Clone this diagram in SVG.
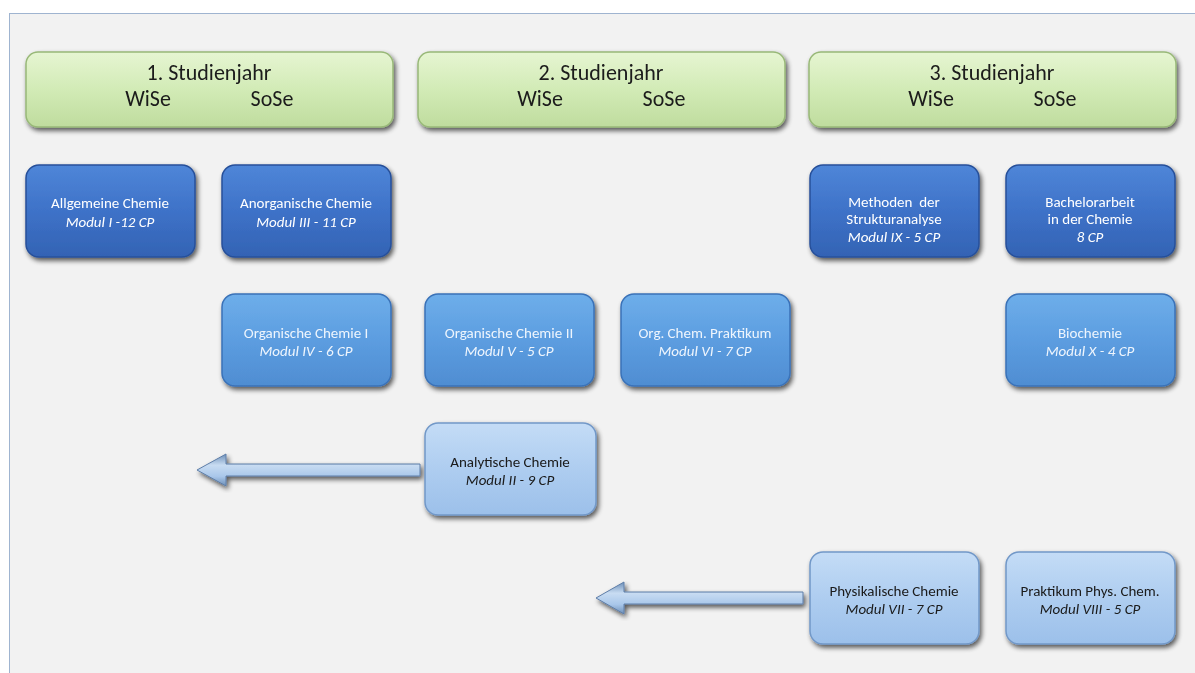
<svg xmlns="http://www.w3.org/2000/svg" width="1195" height="673" viewBox="0 0 1195 673">
<defs>
<linearGradient id="gGreen" x1="0" y1="0" x2="0" y2="1">
<stop offset="0" stop-color="#e6f5d2"/><stop offset="0.5" stop-color="#d2ebb6"/><stop offset="1" stop-color="#bfdc9e"/>
</linearGradient>
<linearGradient id="gDark" x1="0" y1="0" x2="0" y2="1">
<stop offset="0" stop-color="#4f86d8"/><stop offset="0.5" stop-color="#3e72c8"/><stop offset="1" stop-color="#3363b4"/>
</linearGradient>
<linearGradient id="gMid" x1="0" y1="0" x2="0" y2="1">
<stop offset="0" stop-color="#6eaeea"/><stop offset="0.5" stop-color="#5c9de0"/><stop offset="1" stop-color="#4f8dd2"/>
</linearGradient>
<linearGradient id="gLight" x1="0" y1="0" x2="0" y2="1">
<stop offset="0" stop-color="#c4dcf6"/><stop offset="0.5" stop-color="#aecdf0"/><stop offset="1" stop-color="#9cc0ea"/>
</linearGradient>
<linearGradient id="gArrow" x1="0" y1="0" x2="0" y2="1">
<stop offset="0" stop-color="#6d8fb8"/><stop offset="0.35" stop-color="#c8dcf2"/><stop offset="0.7" stop-color="#a9c7ea"/><stop offset="1" stop-color="#6d8fb8"/>
</linearGradient>
<filter id="sh" x="-10%" y="-10%" width="125%" height="130%">
<feGaussianBlur in="SourceAlpha" stdDeviation="2.5"/>
<feOffset dx="2" dy="3" result="b"/>
<feComponentTransfer><feFuncA type="linear" slope="0.65"/></feComponentTransfer>
<feMerge><feMergeNode/><feMergeNode in="SourceGraphic"/></feMerge>
</filter>
</defs>
<style>
.hdr{fill:url(#gGreen);stroke:#98b878;stroke-width:1.5}
.dark{fill:url(#gDark);stroke:#27509a;stroke-width:1.5}
.mid{fill:url(#gMid);stroke:#3a72b8;stroke-width:1.5}
.light{fill:url(#gLight);stroke:#7298c8;stroke-width:1.5}
text{font-family:Calibri,Carlito,"Open Sans","Liberation Sans",sans-serif;text-anchor:middle}
.ht{font-size:22px;fill:#1a1a1a}
.nt{font-size:15px}
.w{fill:#ffffff}
.wm{fill:#eef5fd}
.k{fill:#1a1a1a}
.i{font-style:italic}
.arr{fill:url(#gArrow);stroke:#5e7ea8;stroke-width:1}
</style>
<rect x="0" y="0" width="1195" height="673" fill="#ffffff"/>
<rect x="9.5" y="13.5" width="1195" height="670" fill="#f2f2f2" stroke="#9fb4d0" stroke-width="1"/>

<g id="year1" filter="url(#sh)">
<rect class="hdr" x="26" y="52" width="367" height="75" rx="12"/>
<text class="ht" x="209" y="80">1. Studienjahr</text>
<text class="ht" x="148" y="106">WiSe</text>
<text class="ht" x="272" y="106">SoSe</text>
</g>
<g id="year2" filter="url(#sh)">
<rect class="hdr" x="418" y="52" width="367" height="75" rx="12"/>
<text class="ht" x="601" y="80">2. Studienjahr</text>
<text class="ht" x="540" y="106">WiSe</text>
<text class="ht" x="664" y="106">SoSe</text>
</g>
<g id="year3" filter="url(#sh)">
<rect class="hdr" x="809" y="52" width="367" height="75" rx="12"/>
<text class="ht" x="992" y="80">3. Studienjahr</text>
<text class="ht" x="931" y="106">WiSe</text>
<text class="ht" x="1055" y="106">SoSe</text>
</g>

<g id="connectors">
<path class="arr" d="M420,464 L420,476 L226,476 L226,486 L197,470 L226,454 L226,464 Z" filter="url(#sh)"/>
<path class="arr" d="M803,592 L803,604 L624,604 L624,614 L596,598 L624,582 L624,592 Z" filter="url(#sh)"/>
</g>

<g id="allgemeine" filter="url(#sh)">
<rect class="dark" x="26" y="165" width="169" height="92" rx="13"/>
<text class="nt w" x="110" y="208">Allgemeine Chemie</text>
<text class="nt w i" x="110" y="227">Modul I -12 CP</text>
</g>
<g id="anorganische" filter="url(#sh)">
<rect class="dark" x="222" y="165" width="169" height="92" rx="13"/>
<text class="nt w" x="306" y="208">Anorganische Chemie</text>
<text class="nt w i" x="306" y="227">Modul III - 11 CP</text>
</g>
<g id="methoden" filter="url(#sh)">
<rect class="dark" x="810" y="165" width="169" height="92" rx="13"/>
<text class="nt w" x="894" y="207">Methoden&#160; der</text>
<text class="nt w" x="894" y="224">Strukturanalyse</text>
<text class="nt w i" x="894" y="242">Modul IX - 5 CP</text>
</g>
<g id="bachelor" filter="url(#sh)">
<rect class="dark" x="1006" y="165" width="169" height="92" rx="13"/>
<text class="nt w" x="1090" y="207">Bachelorarbeit</text>
<text class="nt w" x="1090" y="224">in der Chemie</text>
<text class="nt w i" x="1090" y="242">8 CP</text>
</g>

<g id="organisch1" filter="url(#sh)">
<rect class="mid" x="222" y="294" width="169" height="92" rx="13"/>
<text class="nt wm" x="306" y="338">Organische Chemie I</text>
<text class="nt wm i" x="306" y="356">Modul IV - 6 CP</text>
</g>
<g id="organisch2" filter="url(#sh)">
<rect class="mid" x="425" y="294" width="169" height="92" rx="13"/>
<text class="nt wm" x="509" y="338">Organische Chemie II</text>
<text class="nt wm i" x="509" y="356">Modul V - 5 CP</text>
</g>
<g id="orgpraktikum" filter="url(#sh)">
<rect class="mid" x="621" y="294" width="169" height="92" rx="13"/>
<text class="nt wm" x="705" y="338">Org. Chem. Praktikum</text>
<text class="nt wm i" x="705" y="356">Modul VI - 7 CP</text>
</g>
<g id="biochemie" filter="url(#sh)">
<rect class="mid" x="1006" y="294" width="169" height="92" rx="13"/>
<text class="nt wm" x="1090" y="338">Biochemie</text>
<text class="nt wm i" x="1090" y="356">Modul X - 4 CP</text>
</g>

<g id="analytische" filter="url(#sh)">
<rect class="light" x="425" y="423" width="171" height="92" rx="13"/>
<text class="nt k" x="510" y="467">Analytische Chemie</text>
<text class="nt k i" x="510" y="485">Modul II - 9 CP</text>
</g>
<g id="physikalische" filter="url(#sh)">
<rect class="light" x="810" y="552" width="169" height="92" rx="13"/>
<text class="nt k" x="894" y="596">Physikalische Chemie</text>
<text class="nt k i" x="894" y="614">Modul VII - 7 CP</text>
</g>
<g id="praktikumphys" filter="url(#sh)">
<rect class="light" x="1006" y="552" width="169" height="92" rx="13"/>
<text class="nt k" x="1090" y="596">Praktikum Phys. Chem.</text>
<text class="nt k i" x="1090" y="614">Modul VIII - 5 CP</text>
</g>
</svg>
